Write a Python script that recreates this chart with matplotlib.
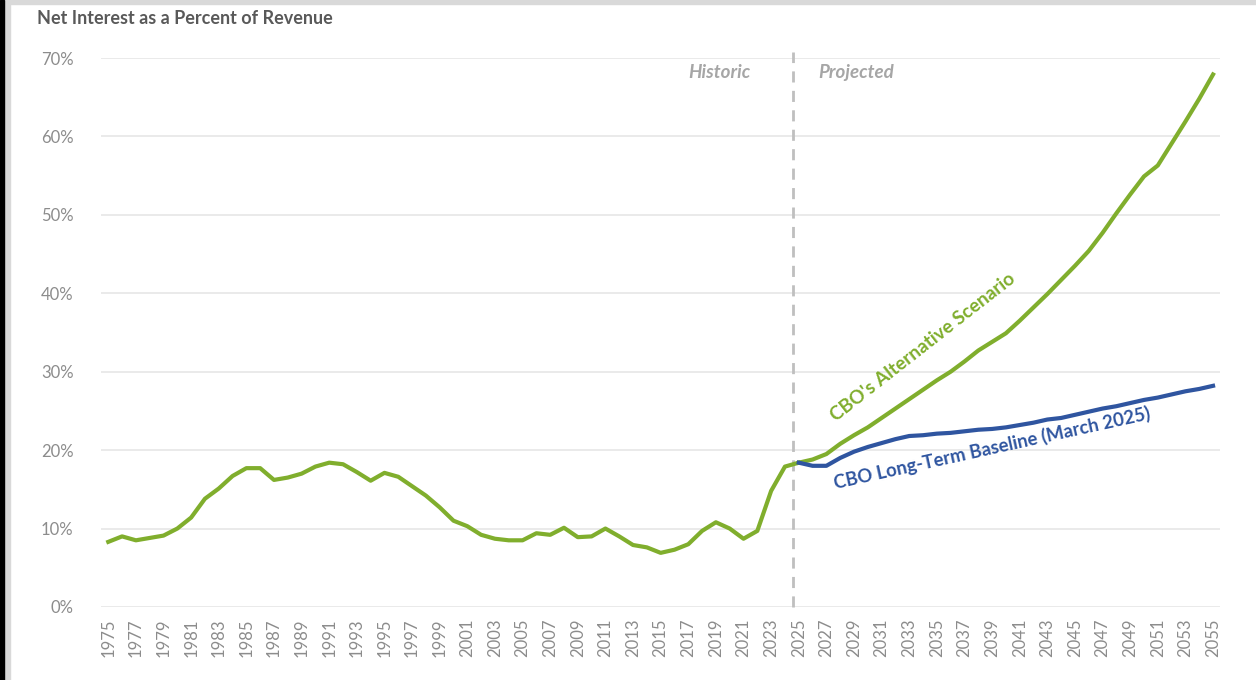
import matplotlib.pyplot as plt
from matplotlib.ticker import PercentFormatter
from matplotlib.patches import Rectangle

plt.rcParams['font.family'] = ['Lato', 'DejaVu Sans']

# Net interest as a share of revenue (%)
hist_years = list(range(1975, 2026))
hist_vals = [8.3, 9.0, 8.5, 8.8, 9.1, 10.0, 11.4, 13.8, 15.1, 16.7,
             17.7, 17.7, 16.2, 16.5, 17.0, 17.9, 18.4, 18.2, 17.2, 16.1,
             17.1, 16.6, 15.4, 14.2, 12.7, 11.0, 10.3, 9.2, 8.7, 8.5,
             8.5, 9.4, 9.2, 10.1, 8.9, 9.0, 10.0, 9.0, 7.9, 7.6,
             6.9, 7.3, 8.0, 9.7, 10.8, 10.0, 8.7, 9.7, 14.8, 17.9,
             18.4]

proj_years = list(range(2025, 2056))
alt_vals = [18.4, 18.8, 19.5, 20.8, 21.9, 22.9, 24.1, 25.3, 26.5, 27.7,
            28.9, 30.0, 31.3, 32.7, 33.8, 34.9, 36.5, 38.2, 39.9, 41.7,
            43.5, 45.4, 47.7, 50.2, 52.6, 54.9, 56.3, 59.1, 61.9, 64.8,
            67.9]
base_vals = [18.4, 18.0, 18.0, 19.0, 19.8, 20.4, 20.9, 21.4, 21.8, 21.9,
             22.1, 22.2, 22.4, 22.6, 22.7, 22.9, 23.2, 23.5, 23.9, 24.1,
             24.5, 24.9, 25.3, 25.6, 26.0, 26.4, 26.7, 27.1, 27.5, 27.8,
             28.2]

green = '#80AE2D'
blue = '#2F55A0'
grey_txt = '#8C8C8C'

fig = plt.figure(figsize=(12.56, 6.8), dpi=100)
ax = fig.add_axes([0.0807, 0.1074, 0.8906, 0.8073])

ax.plot(hist_years, hist_vals, color=green, lw=3, solid_joinstyle='round', zorder=3)
ax.plot(proj_years, alt_vals, color=green, lw=3, solid_joinstyle='round', zorder=3)
ax.plot(proj_years, base_vals, color=blue, lw=3, solid_joinstyle='round', zorder=4)

ax.set_xlim(1974.5, 2055.5)
ax.set_ylim(0, 70)
ax.set_yticks(range(0, 71, 10))
ax.yaxis.set_major_formatter(PercentFormatter(decimals=0))
ax.set_xticks(range(1975, 2056, 2))
ax.set_xticklabels([str(y) for y in range(1975, 2056, 2)], rotation=90)
ax.tick_params(axis='both', length=0, colors=grey_txt, labelsize=12)
ax.tick_params(axis='x', pad=8)
ax.tick_params(axis='y', pad=20)
ax.grid(axis='y', color='#E6E6E6', lw=1.2)
ax.set_axisbelow(True)
for s in ax.spines.values():
    s.set_visible(False)

# historic / projected divider
ax.plot([2024.6, 2024.6], [0, 70.8], color='#BFBFBF', lw=2, ls=(0, (4, 3)),
        clip_on=False, zorder=2)
ax.text(2021.5, 68.1, 'Historic', color='#A6A6A6', fontsize=13.5, style='italic',
        weight='bold', ha='right', va='center')
ax.text(2026.4, 68.1, 'Projected', color='#A6A6A6', fontsize=13.5, style='italic',
        weight='bold', ha='left', va='center')

ax.text(2027.8, 23.3, "CBO's Alternative Scenario", color=green, fontsize=13.6,
        weight='bold', rotation=38, rotation_mode='anchor', ha='left', va='bottom')
ax.text(2027.7, 14.6, 'CBO Long-Term Baseline (March 2025)', color=blue, fontsize=13.3,
        weight='bold', rotation=12.5, rotation_mode='anchor', ha='left', va='bottom')

fig.text(37 / 1256, 1 - 19 / 680, 'Net Interest as a Percent of Revenue',
         color='#595959', fontsize=13, weight='bold', ha='left', va='center')

# screenshot frame: grey strips and black left edge
fig.patches.append(Rectangle((0, 1 - 4 / 680), 1, 4 / 680, transform=fig.transFigure,
                             color='#D9D9D9', zorder=0))
fig.patches.append(Rectangle((0, 0), 10 / 1256, 1, transform=fig.transFigure,
                             color='#D9D9D9', zorder=0))
fig.patches.append(Rectangle((0, 0), 4 / 1256, 1, transform=fig.transFigure,
                             color='black', zorder=1))

fig.savefig('out.png', dpi=100)
